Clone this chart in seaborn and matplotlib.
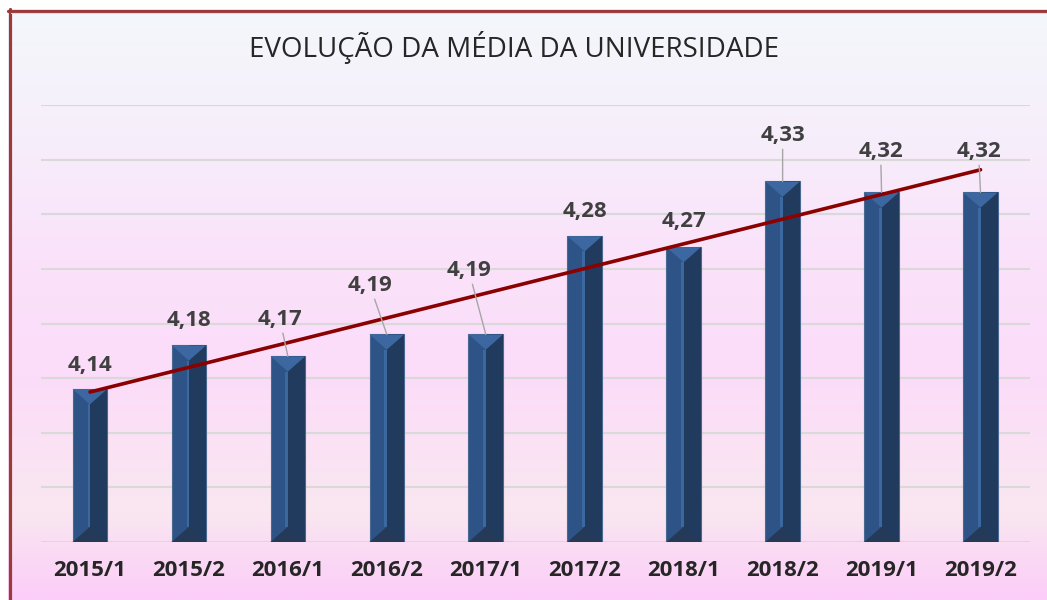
import numpy as np
import matplotlib.pyplot as plt
import seaborn as sns
from matplotlib.patches import Polygon, Rectangle
from matplotlib.lines import Line2D
from matplotlib.colors import LinearSegmentedColormap

periods = ['2015/1', '2015/2', '2016/1', '2016/2', '2017/1',
           '2017/2', '2018/1', '2018/2', '2019/1', '2019/2']
means = [4.14, 4.18, 4.17, 4.19, 4.19, 4.28, 4.27, 4.33, 4.32, 4.32]

# label placement (pixels from top of bar) and which ones get a leader line
label_dx = [0, 0, -8, -17, -17, 0, 0, 0, -1, -2]
label_dy = [24, 25, 37, 49, 64, 25, 26, 46, 41, 41]
leader = [False, False, True, True, True, False, False, True, True, True]

sns.set_theme(style='white')
plt.rcParams['font.family'] = ['Open Sans', 'DejaVu Sans']

W, H = 1047, 600
fig = plt.figure(figsize=(W / 100, H / 100), dpi=100)
fig.patch.set_facecolor('white')

# gradient background inside the frame
bg = fig.add_axes([8 / W, 0, 1 - 8 / W, 1 - 9 / H], zorder=-10)
stops = [0, 0.18, 0.42, 0.62, 0.85, 1]
cols = ['#f3f7fa', '#f6f0fb', '#fae2fa', '#fcdcf9', '#f9e7f0', '#fccdf9']
cmap = LinearSegmentedColormap.from_list('bg', list(zip(stops, cols)))
bg.imshow(np.linspace(0, 1, 300).reshape(-1, 1), cmap=cmap, aspect='auto',
          extent=[0, 1, 0, 1])
bg.axis('off')

# dark red frame (top and left)
fig.add_artist(Line2D([8 / W, 1], [1 - 10.5 / H] * 2, color='#9b3a3a', lw=2.3))
fig.add_artist(Line2D([9.5 / W] * 2, [0, 1 - 9 / H], color='#9b3a3a', lw=2.3))
fig.add_artist(Line2D([11 / W, 1], [1 - 13 / H] * 2, color='#dcdcdc', lw=0.8))

ax = fig.add_axes([40.5 / W, 58 / H, 989.5 / W, 437 / H])
ax.patch.set_alpha(0)

sns.barplot(x=periods, y=means, color='#2e5386', width=0.35, errorbar=None,
            saturation=1, linewidth=0.8, edgecolor='#4a6890', ax=ax, zorder=2)

ax.set_xlim(-0.5, 9.5)
ax.set_ylim(4.0, 4.4)
ax.set_yticks(np.arange(4.0, 4.401, 0.05))
ax.set_yticklabels([])
ax.yaxis.grid(True, color='#d9d9d9', lw=1.5)
ax.set_axisbelow(True)
ax.set_xlabel('')
ax.set_ylabel('')
ax.tick_params(axis='x', length=0, pad=13, labelsize=16, labelcolor='#262626')
ax.tick_params(axis='y', length=0)
for lbl in ax.get_xticklabels():
    lbl.set_fontweight('bold')
sns.despine(ax=ax, left=True, bottom=True)

# bevel details on each bar
bev = 0.014
ylo = ax.get_ylim()[0]
for p in ax.patches:
    x0, w = p.get_x(), p.get_width()
    xc, x1 = x0 + w / 2, x0 + w
    top = p.get_y() + p.get_height()
    bot = max(p.get_y(), ylo)
    ax.add_patch(Rectangle((xc, bot), w / 2, top - bot, color='#213b5e', zorder=2.1, lw=0))
    ax.add_patch(Rectangle((xc - w * 0.07, bot + bev), w * 0.07, top - bot - 2 * bev,
                           color='#3c68a0', zorder=2.2, lw=0))
    ax.add_patch(Polygon([(x0, top), (x1, top), (xc, top - bev)], closed=True,
                         color='#3d67a0', zorder=2.3, lw=0))
    ax.add_patch(Polygon([(x0, bot), (x1, bot), (xc, bot + bev)], closed=True,
                         color='#243a58', zorder=2.3, lw=0))

# linear trend line
xs = np.arange(len(means))
coef = np.polyfit(xs, means, 1)
ends = np.array([xs[0], xs[-1]])
ax.plot(ends, np.polyval(coef, ends), color='#8b0000', lw=2.6,
        solid_capstyle='round', zorder=4)

for i, v in enumerate(means):
    arrow = dict(arrowstyle='-', color='#a6a6a6', lw=1, shrinkA=0, shrinkB=0) if leader[i] else None
    ax.annotate(f'{v:.2f}'.replace('.', ','), xy=(i, v),
                xytext=(label_dx[i], label_dy[i]), textcoords='offset pixels',
                ha='center', va='center', fontsize=16, fontweight='bold',
                color='#404040', zorder=5, arrowprops=arrow)

fig.text(514 / W, 1 - 47 / H, 'EVOLUÇÃO DA MÉDIA DA UNIVERSIDADE',
         ha='center', va='center', fontsize=20, color='#262626')

fig.savefig('out.png', dpi=100)
